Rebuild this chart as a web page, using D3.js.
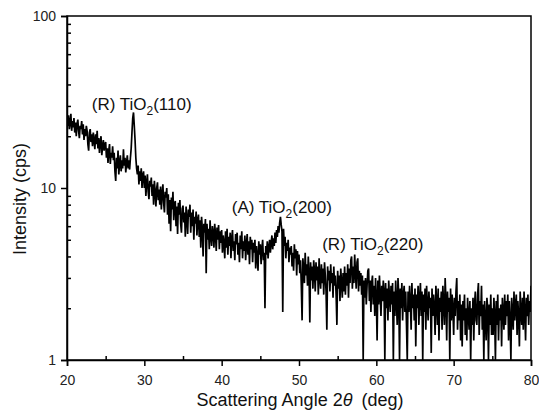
<!DOCTYPE html>
<meta charset="utf-8">
<style>
  body {
    margin: 0;
    background: #fff;
    font-family: "Liberation Sans", Arial, sans-serif;
  }
  .axis path,
  .axis line {
    fill: none;
    stroke: #000;
    stroke-width: 1.5;
  }
  .axis text {
    font-size: 14px;
    fill: #222;
  }
  .frame {
    fill: none;
    stroke: #000;
    stroke-width: 1.5;
  }
  .trace {
    fill: none;
    stroke: #000;
    stroke-width: 1.7;
    stroke-linejoin: miter;
  }
  .peak_label {
    font-size: 17px;
    fill: #111;
  }
  .axis_title {
    font-size: 18px;
    fill: #111;
  }
</style>
<body>
<script src="https://d3js.org/d3.v7.min.js"></script>
<script>
// scan: 20 to 80 deg, 0.1 deg step, one row per degree
var angleStart = 20, angleStep = 0.1;
var intensity = [
  25, 23, 26.5, 22, 24, 27, 21.5, 24.5, 22.5, 25.5,
  21, 24, 20, 23.5, 25, 21.5, 19.5, 23, 22, 24.5,
  20.5, 23.5, 19, 22, 20, 23, 21.5, 18, 16.5, 21,
  22, 18.5, 20.5, 17.5, 21, 19, 16.8, 20.5, 18, 21.5,
  17, 19.5, 16, 18.5, 20, 15.5, 17.5, 19, 16.5, 18,
  18.5, 15, 17, 14, 16.5, 18, 13.8, 16, 15, 17.5,
  14.5, 16, 12.5, 11, 15, 13, 16.5, 12, 14, 15.5,
  12.5, 14.5, 13, 16.8, 13.5, 15, 12.3, 14, 15.5, 13,
  14.5, 12.8, 15, 17, 21, 25.5, 27.5, 23, 19, 15,
  13, 12, 13.5, 10.5, 12.5, 11, 13, 10, 11.8, 12.5,
  10, 11.8, 9, 10.8, 12, 9.5, 8.6, 11, 10.2, 11.5,
  9, 10.5, 8, 11, 9.5, 7.8, 10, 10.8, 8.5, 9.8,
  8, 10.2, 7.5, 9.2, 10.5, 8.2, 7.2, 9.5, 8.8, 10,
  7, 9.2, 6.2, 8.5, 5.6, 8.8, 7.5, 9.5, 6.5, 8,
  8.4, 6, 7.8, 5.4, 8.2, 7, 8.5, 6.2, 5.5, 7.6,
  7.9, 6.3, 7.2, 5.2, 7.8, 6.6, 5.4, 7.5, 6.8, 8,
  5.5, 7.2, 6, 7.5, 5, 6.8, 6.2, 7.3, 5.3, 6.5,
  7, 5.2, 6.5, 4.5, 6.8, 5.8, 4, 6.2, 5.5, 6.6,
  3.2, 6.2, 5, 5.8, 4.4, 6.5, 5.2, 4.6, 6, 5.5,
  4.5, 6.2, 5.4, 4.3, 5.9, 5, 6.1, 4.4, 5.6, 4.8,
  5.7, 4.2, 5.3, 4.8, 3.9, 5.6, 4.5, 5.8, 4.1, 5.2,
  4.6, 5.5, 3.9, 5.1, 5.7, 4.3, 4.9, 3.8, 5.4, 4.7,
  5.5, 4.1, 4.8, 3.7, 5.3, 4.4, 5.6, 3.9, 4.9, 4.3,
  5.3, 3.8, 4.7, 5.4, 4.1, 4.9, 3.6, 5.2, 4.4, 5,
  3.7, 4.8, 4.2, 5, 3.4, 4.6, 4, 3.3, 4.9, 4.1,
  4.7, 3.6, 4.4, 5, 3.8, 4.2, 2.0, 4.6, 4.1, 4.9,
  3.9, 4.5, 5, 4.2, 4.8, 5.3, 4.4, 5.1, 4.6, 5.5,
  4.8, 5.7, 5.2, 6, 5.5, 6.3, 6.8, 6.1, 5.6, 1.9,
  5.8, 4.6, 5.2, 3.9, 4.8, 4.3, 5, 3.7, 4.5, 4.1,
  4.6, 3.5, 4.2, 3.3, 4.7, 3.9, 4.4, 3.1, 4.3, 3.6,
  4.1, 3.2, 3.8, 2.7, 1.7, 3.9, 3.4, 2.8, 4.2, 3.1,
  3.6, 2.7, 4, 3.2, 1.65, 3.7, 2.9, 3.5, 2.6, 3.8,
  3.3, 2.5, 3.7, 2.9, 3.5, 2.4, 3.9, 3, 2.6, 3.6,
  2.8, 3.4, 2.4, 3.7, 3.1, 2.5, 1.5, 3.5, 2.9, 3.3,
  2.5, 3.6, 2.8, 3.2, 2.3, 3.5, 2.7, 3.1, 2.4, 1.6,
  3.3, 2.6, 3.1, 2.2, 3.4, 2.8, 2.3, 3.2, 2.5, 3.5,
  2.4, 3.2, 2.7, 3.6, 2.3, 3.4, 2.8, 3.8, 4, 2.6,
  3.5, 2.8, 4.1, 3.2, 2.6, 3.7, 3.9, 2.5, 3.3, 2.7,
  3.2, 2.4, 3.1, 1.0, 2.9, 2.3, 3, 2.1, 2.7, 3.3,
  3.4, 2.2, 2.9, 1.9, 2.8, 3.1, 2.1, 2.7, 1.8, 3,
  2.3, 1.3, 2.9, 2.1, 3.1, 2.4, 1.8, 2.7, 2.2, 2.9,
  2.5, 1.0, 2.8, 2.0, 2.6, 1.7, 2.9, 2.3, 1.9, 2.7,
  2.1, 2.8, 1.0, 2.5, 1.8, 2.9, 2.2, 1.6, 3.0, 2.4,
  1.0, 2.6, 2.0, 2.8, 1.7, 2.4, 2.7, 1.9, 2.5, 1.6,
  1.0, 2.5, 1.9, 2.7, 2.2, 1.5, 2.8, 2.0, 2.4, 1.7,
  2.6, 1.2, 2.4, 2.0, 2.7, 1.6, 2.3, 2.8, 1.8, 2.5,
  1.0, 2.4, 1.9, 2.6, 1.5, 2.7, 2.1, 1.7, 2.5, 2.0,
  2.3, 1.1, 2.6, 1.8, 2.4, 2.0, 1.4, 2.7, 2.2, 1.6,
  2.6, 1.3, 2.3, 1.9, 2.5, 1.5, 2.7, 2.1, 1.6, 3.0,
  2.2, 1.3, 2.5, 1.9, 2.3, 1.0, 2.6, 1.7, 2.4, 2.0,
  1.4, 2.3, 1.8, 2.5, 3.0, 1.5, 2.2, 1.7, 2.4, 1.3,
  2.1, 1.2, 2.2, 1.7, 2.4, 1.4, 2.0, 1.3, 2.3, 1.8,
  1.5, 2.2, 1.0, 2.0, 1.6, 2.3, 1.3, 2.1, 2.5, 1.7,
  1.6, 2.4, 2.8, 1.4, 2.2, 1.8, 2.7, 1.5, 2.1, 1.0,
  2.2, 1.7, 1.3, 2.3, 2.0, 1.0, 2.1, 1.6, 2.4, 1.4,
  2.0, 1.4, 2.3, 1.8, 1.0, 2.2, 1.6, 2.4, 1.3, 2.0,
  1.7, 2.1, 1.2, 2.3, 1.9, 1.5, 2.4, 1.6, 2.2, 1.8,
  2.4, 1.3, 2.2, 1.7, 1.0, 2.3, 1.9, 1.5, 2.5, 1.7,
  2.1, 2.4, 1.4, 2.2, 1.8, 1.2, 2.5, 1.9, 1.6, 2.3,
  1.5, 2.5, 1.9, 1.3, 2.3, 1.8, 2.4, 1.6, 2.2, 1.9,
  2.7
];
var xTicks = [20, 30, 40, 50, 60, 70, 80];
var xMinorTicks = [25, 35, 45, 55, 65, 75];
var yTicks = [1, 10, 100];
var yMinorTicks = [2, 3, 4, 5, 6, 7, 8, 9, 20, 30, 40, 50, 60, 70, 80, 90];
var peakNames = ["(R) TiO", "(A) TiO", "(R) TiO"];
var peakPlanes = ["(110)", "(200)", "(220)"];
var peakAngles = [23.2, 41.3, 53.0];
var peakCps = [28.4, 7.17, 4.36];

var margin = {top: 16, right: 8, bottom: 51, left: 67},
    width = 539 - margin.left - margin.right,
    height = 411 - margin.top - margin.bottom;

var svg = d3.select("body").append("svg")
    .attr("width", 539)
    .attr("height", 411)
  .append("g")
    .attr("transform", "translate(" + margin.left + "," + margin.top + ")");

var x = d3.scaleLinear().domain([20, 80]).range([0, width]);
var y = d3.scaleLog().domain([1, 100]).range([height, 0]);

var scan = intensity.map(function(v, i) {
  return {angle: angleStart + i * angleStep, cps: v};
});

svg.append("clipPath").attr("id", "plot_clip")
  .append("rect").attr("width", width).attr("height", height);

var line = d3.line()
    .x(function(d) { return x(d.angle); })
    .y(function(d) { return y(Math.max(d.cps, 1)); });

svg.append("path")
    .datum(scan)
    .attr("class", "trace")
    .attr("clip-path", "url(#plot_clip)")
    .attr("d", line);

// frame
svg.append("rect")
    .attr("class", "frame")
    .attr("width", width)
    .attr("height", height);

// x axis: major ticks outward, minor ticks inward
svg.append("g")
    .attr("class", "x axis")
    .attr("transform", "translate(0," + height + ")")
    .call(d3.axisBottom(x).tickValues(xTicks).tickSize(6).tickPadding(9).tickFormat(d3.format("d")));

svg.append("g")
    .attr("class", "x axis minor")
    .attr("transform", "translate(0," + height + ")")
    .call(d3.axisTop(x).tickValues(xMinorTicks).tickSize(4).tickFormat(""))
    .select(".domain").remove();

svg.append("g")
    .attr("class", "y axis")
    .call(d3.axisLeft(y).tickValues(yTicks).tickSize(6).tickPadding(5).tickFormat(d3.format("d")));

svg.append("g")
    .attr("class", "y axis minor")
    .call(d3.axisRight(y).tickValues(yMinorTicks).tickSize(4).tickFormat(""))
    .select(".domain").remove();

// peak labels
peakNames.forEach(function(name, i) {
  var t = svg.append("text")
      .attr("class", "peak_label")
      .attr("x", x(peakAngles[i]))
      .attr("y", y(peakCps[i]));
  t.append("tspan").text(name);
  t.append("tspan").attr("dy", 5).style("font-size", "12px").text("2");
  t.append("tspan").attr("dy", -5).text(peakPlanes[i]);
});

// axis titles
var xt = svg.append("text")
    .attr("class", "axis_title")
    .attr("x", 300 - margin.left)
    .attr("y", height + 46)
    .attr("text-anchor", "middle");
xt.append("tspan").text("Scattering Angle 2");
xt.append("tspan").style("font-style", "italic").text("\u03B8");
xt.append("tspan").text("\u2002(deg)");

svg.append("text")
    .attr("class", "axis_title")
    .attr("transform", "translate(" + (-41) + "," + (199 - margin.top) + ") rotate(-90)")
    .attr("text-anchor", "middle")
    .text("Intensity (cps)");
</script>
